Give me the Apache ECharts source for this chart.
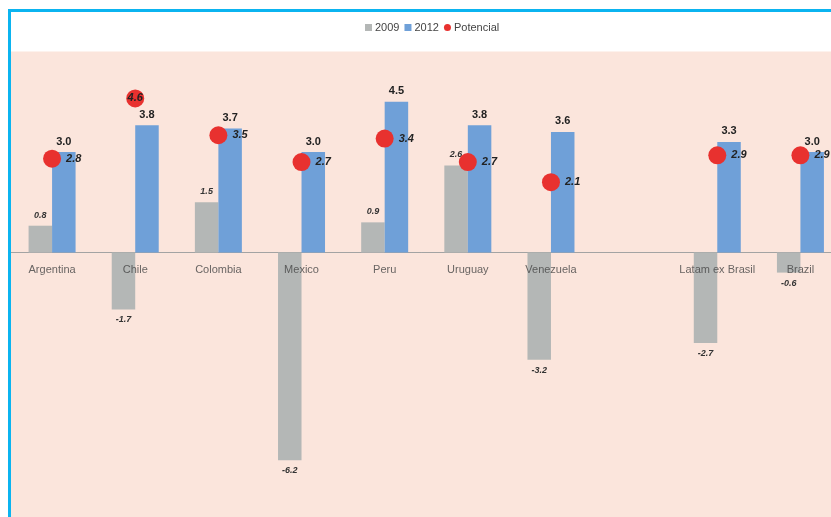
<!DOCTYPE html>
<html>
<head>
<meta charset="utf-8">
<script src="https://cdn.jsdelivr.net/npm/echarts@6/dist/echarts.min.js"></script>
<style>
  html, body { margin: 0; padding: 0; background: #ffffff; }
  #chart { width: 831px; height: 517px; }
</style>
</head>
<body>
<div id="chart"></div>
<script>
const categories = ['Argentina', 'Chile', 'Colombia', 'Mexico', 'Peru', 'Uruguay', 'Venezuela', '', 'Latam ex Brasil', 'Brazil'];
const values2009 = [0.8, -1.7, 1.5, -6.2, 0.9, 2.6, -3.2, null, -2.7, -0.6];
const values2012 = [3.0, 3.8, 3.7, 3.0, 4.5, 3.8, 3.6, null, 3.3, 3.0];
const potencial = [2.8, 4.6, 3.5, 2.7, 3.4, 2.7, 2.1, null, 2.9, 2.9];

const fmt = p => p.value == null ? '' : Number(p.value).toFixed(1);
const labelFont = 'Liberation Sans Narrow, Liberation Sans, sans-serif';

const chart = echarts.init(document.getElementById('chart'));

const option = {
    backgroundColor: '#ffffff',
    animation: false,
    legend: {
        top: 17,
        left: 360,
        itemWidth: 7,
        itemHeight: 7,
        itemGap: 5,
        textStyle: { fontSize: 11, color: '#444', fontFamily: labelFont, padding: [0, 0, 0, -2] },
        data: [
            { name: '2009', icon: 'rect' },
            { name: '2012', icon: 'rect' },
            { name: 'Potencial', icon: 'circle' }
        ]
    },
    grid: {
        left: 10.5,
        right: -11,
        top: 51.5,
        bottom: -3.5,
        outerBoundsMode: 'none',
        containLabel: false,
        show: true,
        backgroundColor: '#fbe5dc',
        borderWidth: 0
    },
    xAxis: {
        type: 'category',
        data: categories,
        axisLine: { onZero: true, lineStyle: { color: '#a3a3a3', width: 1 } },
        axisTick: { show: false },
        axisLabel: { show: false }
    },
    yAxis: {
        type: 'value',
        min: -8,
        max: 6,
        show: false,
        splitLine: { show: false }
    },
    series: [
        {
            name: '2009',
            type: 'bar',
            barWidth: 23.5,
            barGap: 0,
            itemStyle: { color: '#b4b7b6' },
            label: {
                show: true,
                formatter: fmt,
                fontSize: 9,
                fontWeight: 'bold',
                fontStyle: 'italic',
                color: '#333',
                distance: 6
            },
            data: values2009.map(v => ({
                value: v,
                label: { position: v < 0 ? 'bottom' : 'top' }
            }))
        },
        {
            name: '2012',
            type: 'bar',
            barWidth: 23.5,
            barGap: 0,
            itemStyle: { color: '#6fa0d8' },
            label: {
                show: true,
                position: 'top',
                formatter: fmt,
                fontSize: 11,
                fontWeight: 'bold',
                color: '#222',
                distance: 5
            },
            data: values2012
        },
        {
            name: 'Potencial',
            type: 'scatter',
            symbolSize: 18,
            itemStyle: { color: '#e8312f', opacity: 1 },
            label: {
                show: true,
                position: 'right',
                distance: 5,
                formatter: fmt,
                fontSize: 11,
                fontWeight: 'bold',
                fontStyle: 'italic',
                color: '#222'
            },
            data: potencial.map((v, i) => categories[i] === 'Chile'
                ? { value: v, label: { position: 'inside' } }
                : v)
        },
        {
            // category names sit just under the zero line
            name: 'names',
            type: 'scatter',
            symbolSize: 0,
            silent: true,
            z: 10,
            label: {
                show: true,
                position: 'bottom',
                distance: 12,
                formatter: p => p.name,
                fontSize: 11,
                color: '#444',
                fontFamily: labelFont
            },
            data: categories.map(() => 0)
        }
    ],
    graphic: [
        { type: 'line', shape: { x1: 9.5, y1: 10.5, x2: 831, y2: 10.5 }, style: { stroke: '#0bb4f0', lineWidth: 3 }, z: 100 },
        { type: 'line', shape: { x1: 9.5, y1: 9, x2: 9.5, y2: 517 }, style: { stroke: '#0bb4f0', lineWidth: 3 }, z: 100 }
    ]
};

chart.setOption(option);
</script>
</body>
</html>
